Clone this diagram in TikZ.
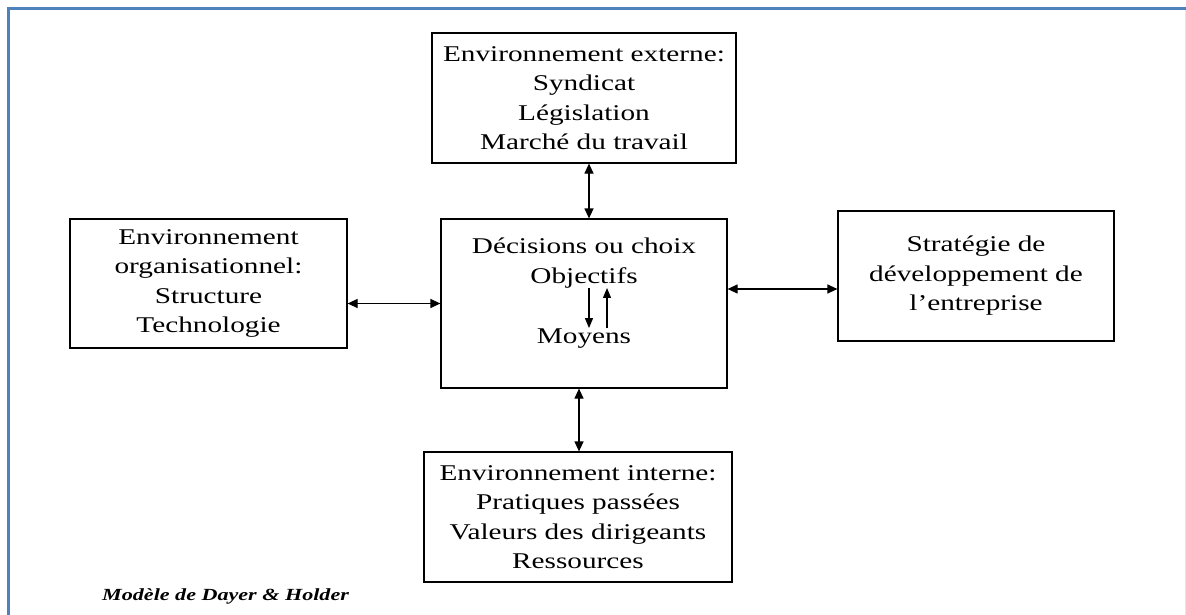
\documentclass[tikz,border=0pt]{standalone}
\usepackage{fontspec}
\setmainfont{Liberation Serif}[FakeStretch=1.3]
\usetikzlibrary{arrows.meta}
\definecolor{framecol}{HTML}{4F81BD}
\definecolor{edgegray}{HTML}{E4E6EA}
\tikzset{
  box/.style={draw=black, line width=1.2pt, inner sep=0pt, align=center,
    font=\fontsize{22.5}{29.5}\selectfont},
  txt/.style={inner sep=0pt, anchor=base, font=\fontsize{22.5}{29.5}\selectfont},
  dbl/.style={line width=1.2pt, {Triangle[length=10pt,width=9pt]}-{Triangle[length=10pt,width=9pt]}},
  sgl/.style={line width=1.2pt, -{Triangle[length=10pt,width=8pt]}},
}
\begin{document}
\begin{tikzpicture}[x=1pt,y=-1pt]
\useasboundingbox (0,0) rectangle (1186,615);
% frame
\draw[framecol, line width=3pt] (8.5,615) -- (8.5,8.5) -- (1186,8.5);
\draw[edgegray, line width=1pt] (1185,10) -- (1185,615);
% boxes
\node[box, minimum width=304pt, minimum height=130pt] (ext) at (584,98)
  {Environnement externe:\\Syndicat\\Législation\\Marché du travail};
\node[box, minimum width=286pt, minimum height=169pt] (dec) at (584,303.5) {};
\node[box, minimum width=277pt, minimum height=129pt] (org) at (208.5,283.5)
  {Environnement\\organisationnel:\\Structure\\Technologie};
\node[box, minimum width=276pt, minimum height=130pt] (str) at (976,276)
  {Stratégie de\\développement de\\l’entreprise};
\node[box, minimum width=308pt, minimum height=130pt] (int) at (578,517)
  {Environnement interne:\\Pratiques passées\\Valeurs des dirigeants\\Ressources};
% text inside the decision box
\node[txt] (dch) at (584,253) {Décisions ou choix};
\node[txt] (obj) at (584,283) {Objectifs};
\node[txt] (moy) at (584,343) {Moyens};
% connectors
\draw[dbl] ([xshift=5pt]ext.south) -- ([xshift=5pt]dec.north);
\draw[dbl] ([xshift=-5pt]dec.south) -- ([xshift=-5pt]dec.south |- int.north);
\draw[dbl] (dec.west) -- (dec.west -| org.east);
\draw[dbl] ([yshift=14.5pt]dec.east) -- ([yshift=14.5pt]dec.east -| str.west);
\draw[sgl] ([xshift=5pt]obj.south) -- ([xshift=5pt]obj.south |- moy.north);
\draw[sgl] ([xshift=23pt]moy.north) -- ([xshift=23pt]moy.north |- obj.south);
% caption
\node[inner sep=0pt, anchor=base west, font=\fontsize{17}{20}\selectfont\bfseries\itshape]
  (cap) at (102,600) {Modèle de Dayer \& Holder};
\end{tikzpicture}
\end{document}
